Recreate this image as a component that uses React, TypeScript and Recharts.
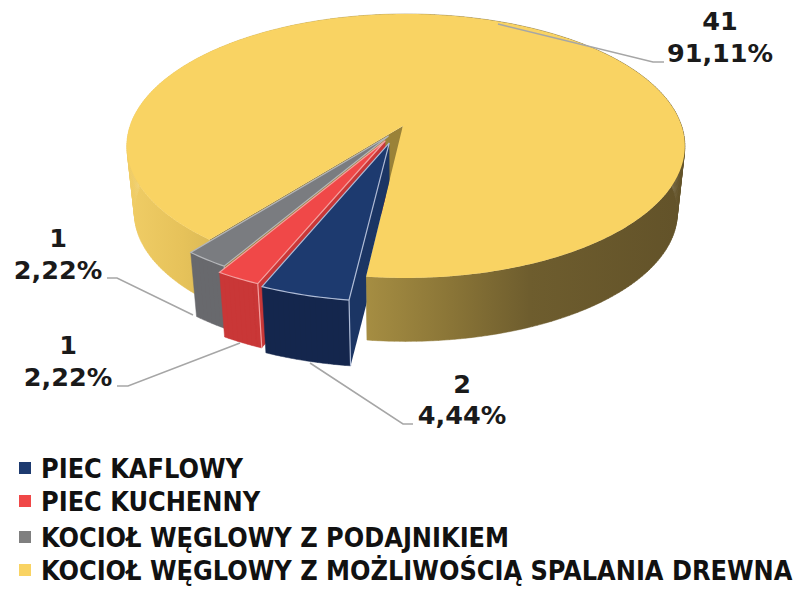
import { Pie, PieChart } from 'recharts';

// legend order, the pie itself draws them back to front
const categories = [
  'PIEC KAFLOWY',
  'PIEC KUCHENNY',
  'KOCIOŁ WĘGLOWY Z PODAJNIKIEM',
  'KOCIOŁ WĘGLOWY Z MOŻLIWOŚCIĄ SPALANIA DREWNA',
];
const counts = [2, 1, 1, 41];
const percentLabels = ['4,44%', '2,22%', '2,22%', '91,11%'];

const topColors = ['#1d3a6f', '#f04848', '#7a7c80', '#f9d363'];
const frontColors = ['#14264d', '#c93737', '#68696d', 'url(#yellowWall)'];
const sideColors = ['#1b3564', '#c93737', '#5e5f63', '#9a8238'];
const edgeColors = ['#aebbd6', '#f3a0a0', '#b4b6ba', 'none'];
const legendColors = ['#1d3a6f', '#f04848', '#7f7f7f', '#f9d363'];
const explodes = [0.068, 0.068, 0.05, 0.068];
// small corrections per slice, the original perspective is not quite regular
const nudges = [
  [-0.005, 0],
  [-0.006, -0.011],
  [0.003, -0.027],
  [0, 0],
];
const depths = [70, 68, 67, 67];

const WIDTH = 797;
const HEIGHT = 589;
const CX = 406;
const CY = 146;
const RX = 279;
const SQUASH = 132 / 279;
const BOTTOM_SCALE = 0.973;
const BACK_MID = 293; // middle of the big slice, its explosion is already in the ellipse
// where the pie centre lands inside the ellipse (perspective)
const APEX = [-0.0108, -0.1515];

const FONT = '"DejaVu Sans", sans-serif';

const rad = (d: number) => (d * Math.PI) / 180;

// projective map of the unit disc onto itself, moves the centre to APEX
const toDisc = (x: number, y: number) => {
  const len = Math.hypot(APEX[0], APEX[1]);
  const ux = APEX[0] / len;
  const uy = APEX[1] / len;
  const s = Math.sqrt(1 - len * len);
  const par = x * ux + y * uy;
  const perpX = x - par * ux;
  const perpY = y - par * uy;
  const den = 1 + x * APEX[0] + y * APEX[1];
  return [
    (APEX[0] + par * ux + s * perpX) / den,
    (APEX[1] + par * uy + s * perpY) / den,
  ];
};

const sliceShape = (props: any) => {
  const { cx, cy, outerRadius, startAngle, endAngle, midAngle, payload } = props;
  const i = payload.index;
  const rx = outerRadius;
  const ry = outerRadius * SQUASH;
  const mid = -midAngle;
  const ex = explodes[i];
  const offX = ex * Math.cos(rad(mid)) - explodes[3] * Math.cos(rad(BACK_MID)) + nudges[i][0];
  const offY = ex * Math.sin(rad(mid)) - explodes[3] * Math.sin(rad(BACK_MID)) + nudges[i][1];

  const place = (x: number, y: number) => {
    const [u, v] = toDisc(x, y);
    return [cx + u * rx, cy + v * ry];
  };
  const top = (r: number, deg: number) =>
    place(r * Math.cos(rad(deg)) + offX, r * Math.sin(rad(deg)) + offY);
  const drop = (p: number[]) => [
    cx + (p[0] - cx) * BOTTOM_SCALE,
    cy + depths[i] + (p[1] - cy) * BOTTOM_SCALE,
  ];
  const bottom = (r: number, deg: number) => drop(top(r, deg));

  const a0 = -Math.max(startAngle, endAngle);
  const a1 = -Math.min(startAngle, endAngle);
  const steps = Math.ceil(a1 - a0);
  const angles: number[] = [];
  for (let k = 0; k <= steps; k++) angles.push(a0 + ((a1 - a0) * k) / steps);

  const pt = (p: number[]) => `${p[0].toFixed(2)} ${p[1].toFixed(2)}`;
  const arc = angles.map((a) => pt(top(1, a))).join(' L ');
  const topPath = `M ${pt(top(0, a0))} L ${arc} Z`;

  let frontPath = '';
  for (let k = 0; k < angles.length - 1; k++) {
    frontPath += `M ${pt(top(1, angles[k]))} L ${pt(top(1, angles[k + 1]))} L ${pt(
      bottom(1, angles[k + 1])
    )} L ${pt(bottom(1, angles[k]))} Z `;
  }
  const sidePath = `M ${pt(top(0, a0))} L ${pt(top(1, a0))} L ${pt(
    bottom(1, a0)
  )} L ${pt(bottom(0, a0))} Z`;
  const front = frontColors[i];

  // the big slice hides the inner walls of its neighbours
  const notchEnd = place(Math.cos(rad(a0)), Math.sin(rad(a0)));
  const notch = `M ${pt(place(0, 0))} L ${pt(notchEnd)} L ${pt(drop(notchEnd))} L ${notchEnd[0] - 40} 600 L 0 600 L 0 0 L ${pt(place(0, 0))} Z`;

  return (
    <g>
      {i === 0 && (
        <clipPath id="notchClip">
          <path d={notch} />
        </clipPath>
      )}
      {i !== 2 && (
        <path
          d={sidePath}
          fill={sideColors[i]}
          clipPath={i < 2 ? 'url(#notchClip)' : undefined}
        />
      )}
      <path d={frontPath} fill={front} stroke={front} strokeWidth={0.5} />
      <path d={topPath} fill={topColors[i]} />
      {i !== 3 && (
        <path
          d={`M ${pt(top(0, a0))} L ${arc} L ${pt(top(0, a0))} M ${pt(
            top(1, a0)
          )} L ${pt(bottom(1, a0))}`}
          fill="none"
          stroke={edgeColors[i]}
          strokeWidth={1.2}
        />
      )}
    </g>
  );
};

// leader lines and text anchors of the labels, same order as categories
const leaderPaths = [
  '310,363 403,424 413,424',
  '240,343 128,386 117,386',
  '193,315 117,278 107,278',
  '498,24 653,62 664,62',
];
const labelCenters = [462, 68, 58, 720];
const labelTops = [393, 354, 247, 30];
const labelBottoms = [424, 386, 279, 62];

const renderLabel = (props: any) => {
  const i = props.payload.index;
  return (
    <g>
      <polyline
        points={leaderPaths[i]}
        fill="none"
        stroke="#a6a6a6"
        strokeWidth={1.5}
      />
      <text
        x={labelCenters[i]}
        y={labelTops[i]}
        textAnchor="middle"
        fontFamily={FONT}
        fontWeight="bold"
        fontSize={25.5}
        fill="#1a1a1a"
      >
        {counts[i]}
      </text>
      <text
        x={labelCenters[i]}
        y={labelBottoms[i]}
        textAnchor="middle"
        fontFamily={FONT}
        fontWeight="bold"
        fontSize={25.5}
        fill="#1a1a1a"
      >
        {percentLabels[i]}
      </text>
    </g>
  );
};

const legendTops = [455, 488, 524, 557];

export default function App() {
  const data = categories
    .map((name, index) => ({ name, value: counts[index], index }))
    .reverse();

  return (
    <div style={{ position: 'absolute', left: 0, top: 0, width: WIDTH, height: HEIGHT, background: '#fff' }}>
      <PieChart width={WIDTH} height={HEIGHT} margin={{ top: 0, right: 0, bottom: 0, left: 0 }}>
        <defs>
          <linearGradient id="yellowWall" gradientUnits="userSpaceOnUse" x1={127} y1={0} x2={686} y2={0}>
            <stop offset="0" stopColor="#f0cd66" />
            <stop offset="0.1" stopColor="#e6c25a" />
            <stop offset="0.43" stopColor="#a58d42" />
            <stop offset="0.58" stopColor="#8a7537" />
            <stop offset="0.72" stopColor="#6e5d2e" />
            <stop offset="1" stopColor="#625229" />
          </linearGradient>
        </defs>
        <Pie
          data={data}
          dataKey="value"
          nameKey="name"
          cx={CX}
          cy={CY}
          innerRadius={0}
          outerRadius={RX}
          startAngle={-96.5}
          endAngle={263.5}
          stroke="none"
          shape={sliceShape}
          label={renderLabel}
          labelLine={false}
          isAnimationActive={false}
        />
      </PieChart>
      {categories.map((name, i) => (
        <div
          key={name}
          style={{
            position: 'absolute',
            left: 19,
            top: legendTops[i],
            height: 26,
            display: 'flex',
            alignItems: 'center',
            whiteSpace: 'nowrap',
          }}
        >
          <span style={{ width: 12, height: 12, marginRight: 10, background: legendColors[i] }} />
          <span
            style={{
              fontFamily: FONT,
              fontWeight: 'bold',
              fontStretch: 'condensed',
              fontSize: 26.8,
              color: '#111',
            }}
          >
            {name}
          </span>
        </div>
      ))}
    </div>
  );
}
